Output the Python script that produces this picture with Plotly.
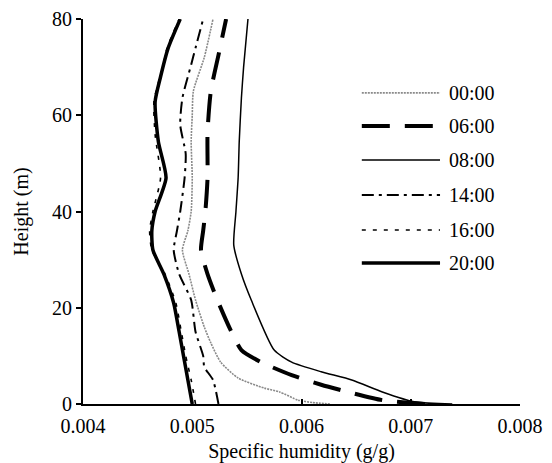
import plotly.graph_objects as go

# ---- data ----
h_0000 = [0, 0.3, 0.8, 2.5, 3.3, 5.4, 8.7, 12.7, 16, 21.6, 27, 32, 36, 40, 47, 54.5, 60, 65, 72, 80]
q_0000 = [0.00626, 0.0061, 0.00597, 0.0058, 0.00566, 0.00542, 0.00526, 0.00517, 0.00511, 0.00503,
          0.00497, 0.00491, 0.00496, 0.00499, 0.00500, 0.00499, 0.00500, 0.00501, 0.00511, 0.00519]

h_0600 = [0, 0.8, 2.3, 4, 6, 8.7, 11.2, 15.4, 21.6, 27, 32, 36, 40, 47, 56.5, 65, 72.5, 80]
q_0600 = [0.00713, 0.00674, 0.00646, 0.00618, 0.00591, 0.00563, 0.00545, 0.00535, 0.00523,
          0.00514, 0.00508, 0.00510, 0.00512, 0.00514, 0.00514, 0.00517, 0.00524, 0.00531]

h_0800 = [0, 0.4, 2.5, 5, 6.7, 8.7, 11.2, 21.6, 27, 33, 40, 47, 54.5, 63.6, 70, 80]
q_0800 = [0.00738, 0.00704, 0.00674, 0.00646, 0.00618, 0.00591, 0.00575,
          0.00554, 0.00545, 0.00538, 0.00540, 0.00542, 0.00543, 0.00545, 0.00547, 0.00551]

h_1400 = [0, 5, 7.7, 10, 15, 21.6, 27, 32, 36, 40, 47, 52, 58, 63.6, 70.5, 74, 80]
q_1400 = [0.00524, 0.00519, 0.00511, 0.00510, 0.00503, 0.00499, 0.00488, 0.00483, 0.00486,
          0.00489, 0.00493, 0.00494, 0.00489, 0.00491, 0.00499, 0.00503, 0.00510]

h_1600 = [0, 5, 10, 15, 21, 27, 32, 36, 40, 47, 56, 63, 70, 74, 80]
q_1600 = [0.00503, 0.00499, 0.00494, 0.00490, 0.00485, 0.00475, 0.00463, 0.00461, 0.00464,
          0.00471, 0.00466, 0.00465, 0.00473, 0.00477, 0.00488]

h_2000 = [0, 5, 10, 15, 21, 27, 32, 36, 40, 47, 54.5, 62.8, 68, 74, 80]
q_2000 = [0.00500, 0.00496, 0.00492, 0.00488, 0.00483, 0.00474, 0.00464, 0.00463,
          0.00466, 0.00476, 0.00469, 0.00466, 0.00471, 0.00478, 0.00489]

series_names = ["00:00", "06:00", "08:00", "14:00", "16:00", "20:00"]
x_ticks = [0.004, 0.005, 0.006, 0.007, 0.008]
x_ticktext = ["0.004", "0.005", "0.006", "0.007", "0.008"]
y_ticks = [0, 20, 40, 60, 80]

styles = {
    "00:00": dict(color="#8a8a8a", width=1.6, dash="2px,1px"),
    "06:00": dict(color="black", width=4, dash="28px,15px"),
    "08:00": dict(color="black", width=1.5, dash="solid"),
    "14:00": dict(color="black", width=2, dash="12px,5px,3px,5px"),
    "16:00": dict(color="black", width=1.6, dash="4px,7px"),
    "20:00": dict(color="black", width=3.5, dash="solid"),
}
data = {
    "00:00": (q_0000, h_0000),
    "06:00": (q_0600, h_0600),
    "08:00": (q_0800, h_0800),
    "14:00": (q_1400, h_1400),
    "16:00": (q_1600, h_1600),
    "20:00": (q_2000, h_2000),
}

FONT = "Liberation Serif, Times New Roman, serif"

fig = go.Figure()
for name in series_names:
    q, h = data[name]
    fig.add_trace(go.Scatter(x=q, y=h, mode="lines", name=name,
                             line=dict(shape="spline", smoothing=0.6, **styles[name]),
                             showlegend=False, cliponaxis=False))

# custom legend (long line samples)
leg_y = [0.808, 0.722, 0.634, 0.543, 0.452, 0.366]
for name, yy in zip(series_names, leg_y):
    st = styles[name]
    fig.add_shape(type="line", xref="paper", yref="paper", x0=0.638, x1=0.817, y0=yy, y1=yy,
                  line=dict(color=st["color"], width=st["width"], dash=st["dash"]))
    fig.add_annotation(xref="paper", yref="paper", x=0.833, y=yy, text=name, showarrow=False,
                       xanchor="left", yanchor="middle", font=dict(family=FONT, size=20, color="black"))

fig.update_layout(
    width=552, height=463,
    margin=dict(l=83, r=32, t=19, b=59),
    paper_bgcolor="white", plot_bgcolor="white",
    font=dict(family=FONT, size=20, color="black"),
    xaxis=dict(range=[0.004, 0.008], tickvals=x_ticks, ticktext=x_ticktext,
               showline=True, linecolor="black", linewidth=2, ticks="inside", ticklen=5,
               tickcolor="black", tickwidth=2, showgrid=False, zeroline=False,
               ticklabelstandoff=3, automargin=False,
               title=dict(text="Specific humidity (g/g)", standoff=18,
                          font=dict(family=FONT, size=20))),
    yaxis=dict(range=[0, 80], tickvals=y_ticks, showline=True, linecolor="black", linewidth=2,
               ticks="outside", ticklen=5, tickcolor="black", tickwidth=2,
               showgrid=False, zeroline=False, automargin=False,
               title=dict(text="Height (m)", standoff=18, font=dict(family=FONT, size=20))),
)

fig.write_html("out.html")
